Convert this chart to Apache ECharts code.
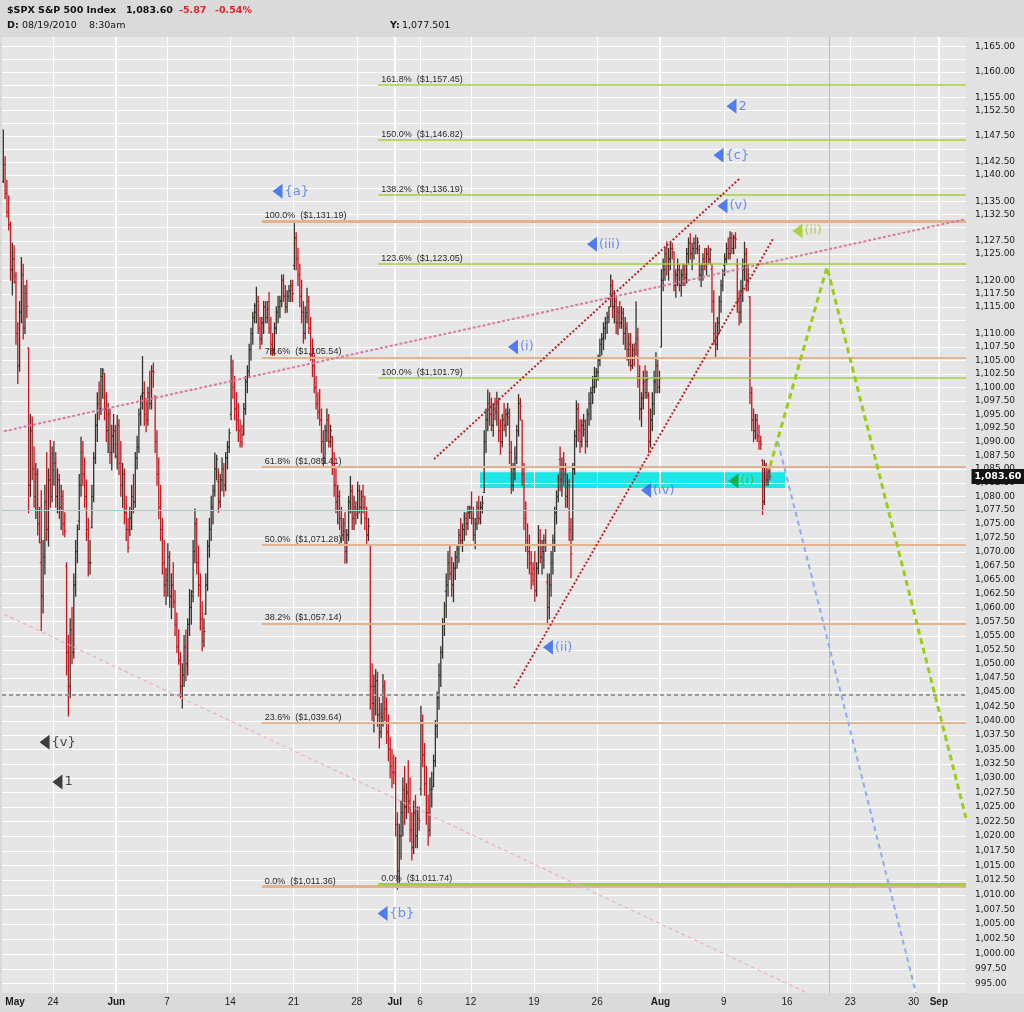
<!DOCTYPE html>
<html><head><meta charset="utf-8">
<script src="https://cdn.jsdelivr.net/npm/echarts@6/dist/echarts.min.js"></script>
<style>html,body{margin:0;padding:0;background:#dcdcdc;}#c{width:1024px;height:1012px;}</style>
</head><body><div id="c"></div>
<script>
// ---------- DATA ----------
const axisDays = ['05-18','05-19','05-20','05-21','05-24','05-25','05-26','05-27','05-28',
 '06-01','06-02','06-03','06-04','06-07','06-08','06-09','06-10','06-11','06-14','06-15','06-16','06-17','06-18',
 '06-21','06-22','06-23','06-24','06-25','06-28','06-29','06-30','07-01','07-02','07-06','07-07','07-08','07-09',
 '07-12','07-13','07-14','07-15','07-16','07-19','07-20','07-21','07-22','07-23','07-26','07-27','07-28','07-29','07-30',
 '08-02','08-03','08-04','08-05','08-06','08-09','08-10','08-11','08-12','08-13','08-16','08-17','08-18','08-19','08-20',
 '08-23','08-24','08-25','08-26','08-27','08-30','08-31','09-01','09-02','09-03'];

const xTickDays  = ['05-19','05-24','06-01','06-07','06-14','06-21','06-28','07-01','07-06','07-12','07-19','07-26','08-02','08-09','08-16','08-23','08-30','09-01'];
const xTickTexts = ['May','24','Jun','7','14','21','28','Jul','6','12','19','26','Aug','9','16','23','30','Sep'];
const xGridDays  = ['05-24','06-01','06-07','06-14','06-21','06-28','07-01','07-06','07-12','07-19','07-26','08-02','08-09','08-16','08-23','08-30','09-01'];
const monthStartDays = ['06-01','07-01','08-02','09-01'];

const yTickLabels = [1165,1160,1155,1152.5,1147.5,1142.5,1140,1135,1132.5,1127.5,1125,1120,1117.5,1115,1110,1107.5,1105,1102.5,1100,
 1097.5,1095,1092.5,1090,1087.5,1085,1082.5,1080,1077.5,1075,1072.5,1070,1067.5,1065,1062.5,1060,1057.5,1055,1052.5,1050,1047.5,1045,
 1042.5,1040,1037.5,1035,1032.5,1030,1027.5,1025,1022.5,1020,1017.5,1015,1012.5,1010,1007.5,1005,1002.5,1000,997.5,995];
const yGridValues = [1165,1162.5,1160,1157.5,1155,1152.5,1150,1147.5,1145,1142.5,1140,1137.5,1135,1132.5,1130,1127.5,1125,1122.5,1120,1117.5,
 1115,1112.5,1110,1107.5,1105,1102.5,1100,1097.5,1095,1092.5,1090,1087.5,1085,1082.5,1080,1077.5,1075,1072.5,1070,1067.5,1065,1062.5,1060,
 1057.5,1055,1052.5,1050,1047.5,1045,1042.5,1040,1037.5,1035,1032.5,1030,1027.5,1025,1022.5,1020,1017.5,1015,1012.5,1010,1007.5,1005,1002.5,1000,997.5,995];

// hourly OHLC bars per trading day [open, high, low, close]
const hourlyBars = [
 [[1138.8,1148.7,1138.6,1142.0],[1142.0,1143.5,1135.5,1136.5],[1136.5,1139.0,1132.0,1133.0],[1133.0,1136.0,1129.5,1130.5],[1130.5,1131.0,1120.0,1122.0],[1122.0,1127.0,1117.2,1124.0],[1124.0,1126.5,1119.5,1120.8]],
 [[1119.6,1121.5,1108.0,1110.0],[1110.0,1112.0,1100.7,1104.0],[1104.0,1116.0,1103.0,1114.0],[1114.0,1124.3,1112.0,1121.0],[1121.0,1123.0,1109.0,1111.0],[1111.0,1119.0,1110.0,1117.5],[1117.5,1120.0,1113.0,1115.1]],
 [[1107.3,1107.3,1077.0,1082.0],[1082.0,1095.0,1080.0,1092.0],[1092.0,1094.5,1083.0,1085.0],[1085.0,1089.0,1078.0,1080.0],[1080.0,1086.0,1076.0,1084.0],[1084.0,1085.0,1073.0,1075.0],[1075.0,1078.0,1071.6,1071.6]],
 [[1068.0,1081.0,1055.9,1062.0],[1062.0,1072.0,1059.0,1069.0],[1069.0,1082.0,1066.0,1079.0],[1079.0,1088.0,1072.0,1074.0],[1074.0,1085.0,1071.0,1083.0],[1083.0,1090.2,1078.0,1080.0],[1080.0,1089.0,1079.0,1087.7]],
 [[1084.8,1090.0,1082.0,1086.0],[1086.0,1088.0,1078.0,1080.0],[1080.0,1085.0,1077.0,1083.0],[1083.0,1084.0,1076.0,1078.0],[1078.0,1082.0,1074.0,1080.0],[1080.0,1081.0,1073.0,1075.0],[1075.0,1077.0,1072.7,1073.7]],
 [[1067.4,1068.0,1048.0,1052.0],[1052.0,1055.0,1040.8,1046.0],[1046.0,1058.0,1044.0,1056.0],[1056.0,1060.0,1050.0,1052.0],[1052.0,1066.0,1051.0,1064.0],[1064.0,1072.0,1062.0,1070.0],[1070.0,1074.8,1068.0,1074.0]],
 [[1075.5,1084.0,1074.0,1082.0],[1082.0,1090.8,1080.0,1088.0],[1088.0,1090.0,1082.0,1084.0],[1084.0,1087.0,1078.0,1080.0],[1080.0,1083.0,1072.0,1074.0],[1074.0,1076.0,1065.6,1068.0],[1068.0,1072.0,1066.0,1068.0]],
 [[1074.3,1082.0,1074.3,1080.0],[1080.0,1088.0,1079.0,1087.0],[1087.0,1095.0,1086.0,1093.0],[1093.0,1099.0,1090.0,1097.0],[1097.0,1101.0,1094.0,1096.0],[1096.0,1103.5,1095.0,1102.0],[1102.0,1103.5,1098.0,1103.1]],
 [[1102.6,1102.6,1094.0,1096.0],[1096.0,1099.0,1090.0,1092.0],[1092.0,1097.0,1088.0,1095.0],[1095.0,1096.0,1086.0,1088.0],[1088.0,1093.0,1084.8,1091.0],[1091.0,1095.0,1088.0,1092.0],[1092.0,1093.0,1087.0,1089.4]],
 [[1087.3,1094.8,1085.0,1093.0],[1093.0,1094.0,1084.0,1086.0],[1086.0,1090.0,1080.0,1082.0],[1082.0,1086.0,1078.0,1084.0],[1084.0,1085.0,1075.0,1077.0],[1077.0,1080.0,1072.0,1074.0],[1074.0,1076.0,1069.9,1070.7]],
 [[1073.9,1078.0,1072.9,1076.0],[1076.0,1082.0,1074.0,1080.0],[1080.0,1084.0,1077.0,1079.0],[1079.0,1088.0,1078.0,1087.0],[1087.0,1091.0,1085.0,1089.0],[1089.0,1096.0,1088.0,1095.0],[1095.0,1098.4,1093.0,1098.4]],
 [[1098.8,1105.7,1096.0,1099.0],[1099.0,1101.0,1093.0,1095.0],[1095.0,1098.0,1091.8,1094.0],[1094.0,1100.0,1093.0,1099.0],[1099.0,1103.0,1096.0,1097.0],[1097.0,1104.0,1096.0,1103.0],[1103.0,1104.5,1100.0,1102.8]],
 [[1098.4,1098.4,1088.0,1090.0],[1090.0,1092.0,1082.0,1084.0],[1084.0,1087.0,1076.0,1078.0],[1078.0,1082.0,1072.0,1074.0],[1074.0,1076.0,1066.0,1068.0],[1068.0,1072.0,1062.0,1064.0],[1064.0,1067.0,1060.5,1064.9]],
 [[1065.8,1071.4,1062.0,1069.0],[1069.0,1070.0,1060.0,1062.0],[1062.0,1066.0,1058.0,1064.0],[1064.0,1068.0,1060.0,1061.0],[1061.0,1063.0,1055.0,1057.0],[1057.0,1059.0,1052.0,1053.0],[1053.0,1056.0,1049.9,1050.5]],
 [[1050.8,1052.0,1044.0,1046.0],[1046.0,1050.0,1042.2,1048.0],[1048.0,1055.0,1046.0,1053.0],[1053.0,1056.0,1047.0,1050.0],[1050.0,1058.0,1048.0,1057.0],[1057.0,1063.2,1055.0,1060.0],[1060.0,1063.0,1057.0,1062.0]],
 [[1062.8,1072.0,1061.0,1070.0],[1070.0,1077.7,1068.0,1075.0],[1075.0,1076.0,1066.0,1068.0],[1068.0,1071.0,1062.0,1064.0],[1064.0,1066.0,1056.0,1058.0],[1058.0,1061.0,1052.3,1054.0],[1054.0,1058.0,1053.0,1055.7]],
 [[1058.8,1066.0,1058.8,1064.0],[1064.0,1072.0,1063.0,1071.0],[1071.0,1076.0,1069.0,1074.0],[1074.0,1080.0,1072.0,1078.0],[1078.0,1082.0,1075.0,1081.0],[1081.0,1087.9,1080.0,1085.0],[1085.0,1087.5,1083.0,1086.8]],
 [[1082.7,1085.0,1077.1,1079.0],[1079.0,1084.0,1078.0,1083.0],[1083.0,1087.0,1081.0,1085.0],[1085.0,1086.0,1080.0,1082.0],[1082.0,1088.0,1081.0,1087.0],[1087.0,1090.0,1085.0,1089.0],[1089.0,1092.3,1088.0,1091.6]],
 [[1095.0,1105.9,1094.0,1103.0],[1103.0,1105.0,1098.0,1100.0],[1100.0,1102.0,1094.0,1096.0],[1096.0,1099.0,1092.0,1094.0],[1094.0,1097.0,1090.0,1092.0],[1092.0,1094.0,1089.0,1090.0],[1090.0,1093.0,1089.0,1089.6]],
 [[1091.2,1097.0,1091.2,1096.0],[1096.0,1102.0,1095.0,1101.0],[1101.0,1104.0,1099.0,1103.0],[1103.0,1108.0,1102.0,1107.0],[1107.0,1111.0,1105.0,1110.0],[1110.0,1114.0,1108.0,1113.0],[1113.0,1115.6,1112.0,1115.2]],
 [[1114.0,1118.7,1112.0,1116.0],[1116.0,1117.0,1110.0,1111.0],[1111.0,1113.0,1107.1,1109.0],[1109.0,1113.0,1108.0,1112.0],[1112.0,1116.0,1110.0,1115.0],[1115.0,1116.0,1112.0,1113.0],[1113.0,1116.0,1112.0,1114.6]],
 [[1116.0,1117.7,1110.0,1111.0],[1111.0,1113.0,1106.0,1108.0],[1108.0,1110.0,1105.9,1107.0],[1107.0,1112.0,1106.0,1111.0],[1111.0,1115.0,1110.0,1114.0],[1114.0,1117.0,1112.0,1115.0],[1115.0,1117.0,1113.0,1116.0]],
 [[1116.2,1121.0,1115.0,1120.0],[1120.0,1121.0,1116.0,1117.0],[1117.0,1119.0,1113.9,1115.0],[1115.0,1118.0,1114.0,1117.0],[1117.0,1119.0,1116.0,1118.0],[1118.0,1120.0,1116.0,1119.0],[1119.0,1120.0,1116.0,1117.5]],
 [[1122.8,1131.2,1122.0,1128.0],[1128.0,1129.0,1122.0,1124.0],[1124.0,1126.0,1119.0,1121.0],[1121.0,1123.0,1115.0,1117.0],[1117.0,1120.0,1112.0,1114.0],[1114.0,1116.0,1108.2,1110.0],[1110.0,1115.0,1109.0,1113.2]],
 [[1113.9,1118.5,1112.0,1116.0],[1116.0,1117.0,1110.0,1111.0],[1111.0,1113.0,1105.0,1106.0],[1106.0,1109.0,1102.0,1104.0],[1104.0,1106.0,1099.0,1100.0],[1100.0,1102.0,1096.0,1097.0],[1097.0,1099.0,1094.2,1095.3]],
 [[1095.6,1099.6,1093.0,1094.0],[1094.0,1096.0,1088.0,1090.0],[1090.0,1092.0,1085.3,1087.0],[1087.0,1093.0,1086.0,1092.0],[1092.0,1096.0,1090.0,1094.0],[1094.0,1095.0,1089.0,1090.0],[1090.0,1093.0,1089.0,1092.0]],
 [[1090.9,1090.9,1084.0,1086.0],[1086.0,1088.0,1080.0,1082.0],[1082.0,1085.0,1077.0,1079.0],[1079.0,1082.0,1075.0,1080.0],[1080.0,1081.0,1074.0,1076.0],[1076.0,1078.0,1071.6,1073.0],[1073.0,1076.0,1072.0,1073.7]],
 [[1075.1,1077.0,1067.9,1070.0],[1070.0,1074.0,1068.0,1073.0],[1073.0,1080.0,1072.0,1079.0],[1079.0,1083.6,1077.0,1081.0],[1081.0,1082.0,1074.0,1076.0],[1076.0,1080.0,1074.0,1078.0],[1078.0,1079.0,1075.0,1076.8]],
 [[1077.5,1082.6,1076.0,1081.0],[1081.0,1082.0,1077.0,1078.0],[1078.0,1081.0,1075.0,1080.0],[1080.0,1082.0,1077.0,1078.0],[1078.0,1080.0,1074.0,1076.0],[1076.0,1078.0,1071.5,1073.0],[1073.0,1076.0,1072.0,1074.6]],
 [[1071.1,1071.1,1042.0,1046.0],[1046.0,1050.0,1040.0,1043.0],[1043.0,1048.0,1038.0,1046.0],[1046.0,1049.0,1041.0,1047.0],[1047.0,1048.5,1039.0,1041.0],[1041.0,1044.0,1035.2,1038.0],[1038.0,1043.0,1037.0,1041.2]],
 [[1040.6,1048.1,1039.0,1046.0],[1046.0,1047.0,1040.0,1042.0],[1042.0,1044.0,1036.0,1038.0],[1038.0,1041.0,1033.0,1035.0],[1035.0,1037.0,1030.0,1032.0],[1032.0,1035.0,1028.3,1031.0],[1031.0,1034.0,1029.0,1030.7]],
 [[1031.1,1033.6,1020.0,1022.0],[1022.0,1024.0,1010.9,1014.0],[1014.0,1022.0,1012.0,1020.0],[1020.0,1026.0,1016.0,1024.0],[1024.0,1030.0,1020.0,1028.0],[1028.0,1032.0,1022.0,1025.0],[1025.0,1029.0,1023.0,1027.4]],
 [[1027.7,1033.0,1024.0,1026.0],[1026.0,1030.0,1019.0,1021.0],[1021.0,1024.0,1015.9,1018.0],[1018.0,1026.0,1017.0,1024.0],[1024.0,1027.0,1018.0,1020.0],[1020.0,1025.0,1018.0,1023.0],[1023.0,1025.0,1021.0,1022.6]],
 [[1028.1,1042.5,1027.0,1040.0],[1040.0,1041.0,1032.0,1034.0],[1034.0,1036.0,1027.0,1029.0],[1029.0,1032.0,1022.0,1024.0],[1024.0,1027.0,1018.4,1021.0],[1021.0,1030.0,1020.0,1028.0],[1028.0,1031.0,1025.0,1028.1]],
 [[1028.5,1034.0,1028.5,1033.0],[1033.0,1040.0,1032.0,1039.0],[1039.0,1045.0,1037.0,1044.0],[1044.0,1050.0,1042.0,1048.0],[1048.0,1053.0,1046.0,1052.0],[1052.0,1058.0,1051.0,1057.0],[1057.0,1060.9,1055.0,1060.3]],
 [[1062.9,1066.0,1058.2,1064.0],[1064.0,1070.0,1062.0,1068.0],[1068.0,1071.3,1065.0,1066.0],[1066.0,1069.0,1062.0,1064.0],[1064.0,1068.0,1061.0,1067.0],[1067.0,1070.0,1065.0,1069.0],[1069.0,1071.0,1067.0,1070.3]],
 [[1070.5,1074.0,1068.1,1073.0],[1073.0,1076.0,1071.0,1072.0],[1072.0,1075.0,1070.0,1074.0],[1074.0,1077.0,1072.0,1076.0],[1076.0,1077.0,1073.0,1075.0],[1075.0,1078.2,1074.0,1077.0],[1077.0,1078.2,1076.0,1078.0]],
 [[1077.2,1080.8,1075.0,1076.0],[1076.0,1078.0,1072.0,1073.0],[1073.0,1076.0,1070.5,1075.0],[1075.0,1079.0,1074.0,1078.0],[1078.0,1080.0,1075.0,1076.0],[1076.0,1079.0,1075.0,1078.0],[1078.0,1080.0,1077.0,1078.8]],
 [[1080.7,1092.0,1080.7,1090.0],[1090.0,1096.0,1088.0,1094.0],[1094.0,1099.5,1092.0,1097.0],[1097.0,1099.0,1093.0,1095.0],[1095.0,1098.0,1092.0,1093.0],[1093.0,1097.0,1091.0,1096.0],[1096.0,1098.0,1094.0,1095.3]],
 [[1095.6,1099.1,1093.0,1097.0],[1097.0,1098.0,1090.0,1092.0],[1092.0,1094.0,1087.7,1090.0],[1090.0,1095.0,1089.0,1094.0],[1094.0,1097.0,1092.0,1093.0],[1093.0,1096.0,1091.0,1095.0],[1095.0,1097.0,1093.0,1095.2]],
 [[1094.5,1096.0,1086.0,1088.0],[1088.0,1090.0,1080.5,1082.0],[1082.0,1086.0,1081.0,1085.0],[1085.0,1089.0,1083.0,1087.0],[1087.0,1093.0,1086.0,1092.0],[1092.0,1098.7,1091.0,1097.0],[1097.0,1098.0,1094.0,1096.5]],
 [[1093.9,1093.9,1082.0,1084.0],[1084.0,1086.0,1074.0,1076.0],[1076.0,1079.0,1070.0,1072.0],[1072.0,1075.0,1067.0,1070.0],[1070.0,1073.0,1066.0,1068.0],[1068.0,1070.0,1063.3,1066.0],[1066.0,1068.0,1064.0,1064.9]],
 [[1066.9,1070.0,1061.1,1063.0],[1063.0,1068.0,1062.0,1067.0],[1067.0,1074.7,1066.0,1072.0],[1072.0,1074.0,1068.0,1069.0],[1069.0,1072.0,1066.0,1070.0],[1070.0,1073.0,1067.0,1072.0],[1072.0,1074.0,1070.0,1071.3]],
 [[1064.5,1066.0,1056.9,1060.0],[1060.0,1066.0,1058.0,1064.0],[1064.0,1070.0,1062.0,1068.0],[1068.0,1073.0,1066.0,1072.0],[1072.0,1078.0,1070.0,1077.0],[1077.0,1081.0,1075.0,1080.0],[1080.0,1083.9,1079.0,1083.5]],
 [[1086.7,1089.0,1081.0,1083.0],[1083.0,1087.0,1080.0,1085.0],[1085.0,1088.0,1082.0,1084.0],[1084.0,1086.0,1078.0,1080.0],[1080.0,1084.0,1078.0,1082.0],[1082.0,1083.0,1072.0,1074.0],[1074.0,1076.0,1065.3,1069.6]],
 [[1072.1,1086.0,1072.1,1085.0],[1085.0,1092.0,1084.0,1091.0],[1091.0,1097.5,1089.0,1096.0],[1096.0,1097.0,1090.0,1092.0],[1092.0,1094.0,1088.0,1090.0],[1090.0,1094.0,1089.0,1093.0],[1093.0,1095.0,1091.0,1093.7]],
 [[1092.2,1094.0,1087.9,1090.0],[1090.0,1096.0,1089.0,1095.0],[1095.0,1099.0,1093.0,1097.0],[1097.0,1100.0,1094.0,1099.0],[1099.0,1102.0,1097.0,1100.0],[1100.0,1103.7,1099.0,1102.0],[1102.0,1103.5,1100.0,1102.7]],
 [[1102.9,1106.0,1101.3,1105.0],[1105.0,1109.0,1104.0,1108.0],[1108.0,1110.0,1106.0,1109.0],[1109.0,1112.0,1107.0,1111.0],[1111.0,1113.0,1109.0,1112.0],[1112.0,1114.0,1110.0,1113.0],[1113.0,1115.0,1112.0,1115.0]],
 [[1117.4,1121.0,1115.0,1119.0],[1119.0,1120.0,1113.0,1115.0],[1115.0,1118.0,1112.0,1116.0],[1116.0,1117.0,1110.0,1112.0],[1112.0,1115.0,1109.8,1114.0],[1114.0,1116.0,1111.0,1112.0],[1112.0,1115.0,1111.0,1113.8]],
 [[1112.8,1114.7,1108.0,1110.0],[1110.0,1113.0,1107.0,1111.0],[1111.0,1112.0,1105.0,1107.0],[1107.0,1110.0,1104.0,1108.0],[1108.0,1110.0,1103.1,1104.0],[1104.0,1108.0,1103.5,1107.0],[1107.0,1108.0,1104.0,1106.1]],
 [[1108.1,1115.9,1106.0,1109.0],[1109.0,1111.0,1100.0,1102.0],[1102.0,1104.0,1094.0,1096.0],[1096.0,1099.0,1092.8,1098.0],[1098.0,1103.0,1096.0,1101.0],[1101.0,1104.0,1098.0,1099.0],[1099.0,1103.0,1098.0,1101.5]],
 [[1098.4,1099.0,1088.0,1090.0],[1090.0,1096.0,1089.0,1094.0],[1094.0,1099.0,1092.0,1097.0],[1097.0,1103.0,1095.0,1101.0],[1101.0,1106.4,1099.0,1104.0],[1104.0,1105.0,1099.0,1100.0],[1100.0,1103.0,1099.0,1101.6]],
 [[1107.5,1122.0,1107.5,1120.0],[1120.0,1124.0,1118.0,1122.0],[1122.0,1126.0,1120.0,1125.0],[1125.0,1127.3,1121.0,1123.0],[1123.0,1126.0,1120.0,1124.0],[1124.0,1127.0,1122.0,1126.0],[1126.0,1127.0,1124.0,1125.9]],
 [[1125.3,1125.4,1118.0,1119.0],[1119.0,1122.0,1116.8,1121.0],[1121.0,1124.0,1119.0,1122.0],[1122.0,1123.0,1118.0,1119.0],[1119.0,1122.0,1117.0,1121.0],[1121.0,1123.0,1119.0,1122.0],[1122.0,1123.0,1119.0,1120.5]],
 [[1121.1,1126.0,1119.5,1125.0],[1125.0,1128.0,1123.0,1127.0],[1127.0,1128.8,1124.0,1125.0],[1125.0,1127.0,1122.0,1126.0],[1126.0,1128.0,1124.0,1127.0],[1127.0,1128.5,1125.0,1126.0],[1126.0,1128.0,1125.0,1127.2]],
 [[1125.8,1126.6,1120.0,1121.0],[1121.0,1123.0,1118.8,1122.0],[1122.0,1125.0,1120.0,1124.0],[1124.0,1126.0,1122.0,1123.0],[1123.0,1126.0,1121.0,1125.0],[1125.0,1126.5,1123.0,1124.0],[1124.0,1126.0,1123.0,1125.8]],
 [[1122.1,1123.1,1114.0,1116.0],[1116.0,1118.0,1108.0,1110.0],[1110.0,1112.0,1105.7,1108.0],[1108.0,1113.0,1107.0,1112.0],[1112.0,1117.0,1110.0,1116.0],[1116.0,1120.0,1114.0,1119.0],[1119.0,1122.0,1118.0,1121.6]],
 [[1122.8,1125.0,1120.9,1124.0],[1124.0,1127.0,1123.0,1126.0],[1126.0,1128.0,1124.0,1125.0],[1125.0,1129.2,1124.0,1128.0],[1128.0,1129.0,1125.0,1126.0],[1126.0,1128.5,1125.0,1128.0],[1128.0,1129.0,1126.0,1127.8]],
 [[1122.9,1124.0,1114.0,1116.0],[1116.0,1118.0,1111.6,1114.0],[1114.0,1120.0,1112.0,1118.0],[1118.0,1124.0,1116.0,1122.0],[1122.0,1127.2,1120.0,1125.0],[1125.0,1126.0,1118.0,1120.0],[1120.0,1123.0,1118.0,1121.1]],
 [[1116.9,1116.9,1097.0,1099.0],[1099.0,1100.0,1092.0,1094.0],[1094.0,1096.0,1090.0,1092.0],[1092.0,1095.0,1090.5,1094.0],[1094.0,1095.0,1090.0,1091.0],[1091.0,1093.0,1088.6,1090.0],[1090.0,1091.0,1088.6,1089.5]],
 [[1086.5,1086.7,1076.7,1079.0],[1079.0,1086.5,1078.5,1085.5],[1085.5,1086.0,1082.0,1083.0],[1083.0,1085.0,1082.0,1084.5],[1084.5,1085.0,1083.0,1083.6]]
];
const barsPerDay = 7;

const fibALabels = ['100.0%','78.6%','61.8%','50.0%','38.2%','23.6%','0.0%'];
const fibAPrices = [1131.19,1105.54,1085.41,1071.28,1057.14,1039.64,1011.36];
const fibAStart = 20.5;
const fibBLabels = ['161.8%','150.0%','138.2%','123.6%','100.0%','0.0%'];
const fibBPrices = [1157.45,1146.82,1136.19,1123.05,1101.79,1011.74];
const fibBStart = 29.7;

const waveTexts  = ['{a}','{b}','(i)','(ii)','(iii)','(iv)','(v)','{c}','2','(ii)','(i)','{v}','1'];
const waveX      = [21.74,30.04,40.35,43.11,46.59,50.86,56.90,56.59,57.61,62.83,57.77,3.33,4.35];
const wavePrices = [1136.9,1006.8,1107.5,1052.9,1126.8,1081.1,1134.1,1143.8,1153.3,1129.3,1082.8,1036.2,1029.3];
const waveKinds  = ['blue','blue','blue','blue','blue','blue','blue','blue','blue','lime','green','black','black'];

const trendUpperPink = [[0.126,1091.9],[76.14,1131.6]];
const trendLowerPink = [[0.126,1058.8],[63.6,993.4]];
const channelUpper   = [[34.11,1086.8],[58.29,1139.4]];
const channelLower   = [[40.43,1045.7],[60.89,1127.8]];
const projGreen      = [[60.66,1085.5],[65.16,1122.5],[76.14,1023.1]];
const projBlue       = [[61.29,1089.9],[72.19,993.4]];

const supportZoneX = [37.74,61.84];
const supportZonePrices = [1081.5,1084.4];
const dashedLevel = 1044.5;
const crosshairPrice = 1077.5;
const crosshairX = 65.3;
const lastPrice = 1083.60;

// ---------- BUILD ----------
const L = Math.log;
const X_MIN = -0.0316, X_MAX = 76.144;
const Y_MIN = L(993.4), Y_MAX = L(1166.8);
const dayIdx = d => axisDays.indexOf(d);
const money = v => v.toLocaleString('en-US',{minimumFractionDigits:2, maximumFractionDigits:2});

const ohlc = [];
hourlyBars.forEach((day, di) => {
  day.forEach((b, k) => {
    ohlc.push([di + (k + 0.5) / barsPerDay, L(b[0]), L(b[1]), L(b[2]), L(b[3])]);
  });
});

const xTickIdx = xTickDays.map(dayIdx);
const monthSet = new Set(monthStartDays);

const waveStyles = {
  blue:  {tri:'#2b60f0', txt:'#4677f4'},
  lime:  {tri:'#9ccd1c', txt:'#a2cc36'},
  green: {tri:'#1e9e22', txt:'#46b82e'},
  black: {tri:'#111111', txt:'#1a1a1a'}
};

const lineSeries = (data, color, width, type, z) => ({
  type:'line', data: data.map(p => [p[0], L(p[1])]), symbol:'none', silent:true, z,
  lineStyle:{color, width, type}, clip:true
});

const hLine = (price, color, width, type) => [
  {coord:[X_MIN, L(price)], lineStyle:{color, width, type}},
  {coord:[X_MAX, L(price)]}
];

const fibMark = (labels, prices, start, color, width, boldWidth, boldLabels, z) => ({
  type:'line', data:[], silent:true, z,
  markLine:{
    symbol:['none','none'], silent:true, animation:false,
    data: prices.map((p,i) => [
      {coord:[start, L(p)], lineStyle:{color, width: boldLabels.includes(labels[i]) ? boldWidth : width, type:'solid'},
       label:{show:true, position:'insideStartTop', distance:[3,1],
         formatter: () => labels[i] + '  ($' + money(p) + ')',
         color:'#2a2a2a', fontSize:9, fontFamily:'Liberation Sans'}},
      {coord:[X_MAX, L(p)]}
    ])
  }
});

const chart = echarts.init(document.getElementById('c'));
chart.setOption({
  animation:false,
  backgroundColor:'#dadada',
  grid:{left:2, right:58, top:37, bottom:19, show:true, backgroundColor:'#e6e6e6', borderWidth:0},
  xAxis:{type:'value', min:X_MIN, max:X_MAX, splitLine:{show:false}, axisLine:{show:false}, axisTick:{show:false},
    axisLabel:{customValues:xTickIdx, margin:4,
      formatter: v => { const i = xTickIdx.indexOf(v); const t = xTickTexts[i];
        return /^[A-Z]/.test(t) ? '{m|' + t + '}' : '{d|' + t + '}'; },
      rich:{m:{fontWeight:'bold', fontSize:10, color:'#1a1a1a', fontFamily:'Liberation Sans Narrow, Liberation Sans'},
            d:{fontSize:10, color:'#1a1a1a', fontFamily:'Liberation Sans Narrow, Liberation Sans'}}}},
  yAxis:{type:'value', position:'right', min:Y_MIN, max:Y_MAX, splitLine:{show:false}, axisLine:{show:false}, axisTick:{show:false},
    axisLabel:{customValues:yTickLabels.map(L), margin:9, align:'left',
      formatter: v => money(Math.round(Math.exp(v)*100)/100),
      fontSize:9, fontFamily:'DejaVu Sans', color:'#1a1a1a'}},
  graphic:[
    {type:'rect', z:-1, shape:{x:966, y:37, width:58, height:956}, style:{fill:'#e2e2e2'}, silent:true},
    {type:'text', x:7, y:11, style:{text:'$SPX S&P 500 Index', font:'bold 9.5px "DejaVu Sans"', fill:'#111', verticalAlign:'middle'}},
    {type:'text', x:126, y:11, style:{text:'1,083.60', font:'bold 9.5px "DejaVu Sans"', fill:'#111', verticalAlign:'middle'}},
    {type:'text', x:179, y:11, style:{text:'-5.87', font:'bold 9.5px "DejaVu Sans"', fill:'#e3202a', verticalAlign:'middle'}},
    {type:'text', x:215, y:11, style:{text:'-0.54%', font:'bold 9.5px "DejaVu Sans"', fill:'#e3202a', verticalAlign:'middle'}},
    {type:'text', x:7, y:26, style:{text:'D:', font:'bold 9.5px "DejaVu Sans"', fill:'#111', verticalAlign:'middle'}},
    {type:'text', x:22, y:26, style:{text:'08/19/2010', font:'9.5px "DejaVu Sans"', fill:'#111', verticalAlign:'middle'}},
    {type:'text', x:89, y:26, style:{text:'8:30am', font:'9.5px "DejaVu Sans"', fill:'#111', verticalAlign:'middle'}},
    {type:'text', x:390, y:26, style:{text:'Y:', font:'bold 9.5px "DejaVu Sans"', fill:'#111', verticalAlign:'middle'}},
    {type:'text', x:402, y:26, style:{text:'1,077.501', font:'9.5px "DejaVu Sans"', fill:'#111', verticalAlign:'middle'}}
  ],
  series:[
    // horizontal gridlines
    {type:'custom', silent:true, z:1, clip:true, data: yGridValues.map(v => [X_MIN, L(v)]), encode:{x:0, y:1},
      renderItem:(params, api) => { const cs = params.coordSys;
        const y = Math.round(api.coord([api.value(0), api.value(1)])[1]) + 0.5;
        return {type:'line', shape:{x1:cs.x, y1:y, x2:cs.x + cs.width, y2:y}, style:{stroke:'#ffffff', lineWidth:1}}; }},
    // vertical gridlines
    {type:'custom', silent:true, z:1, clip:true,
      data: xGridDays.map(d => [dayIdx(d), Y_MIN, monthSet.has(d) ? 2 : 1]), encode:{x:0, y:1},
      renderItem:(params, api) => { const cs = params.coordSys; const w = api.value(2);
        let x = api.coord([api.value(0), api.value(1)])[0]; x = w === 1 ? Math.round(x) + 0.5 : Math.round(x);
        return {type:'line', shape:{x1:x, y1:cs.y, x2:x, y2:cs.y + cs.height}, style:{stroke:'#ffffff', lineWidth:w}}; }},
    // support zone, dashed level, crosshair
    {type:'line', data:[], silent:true, z:2,
      markArea:{silent:true, itemStyle:{color:'#1ce6e6', opacity:1},
        data:[[{coord:[supportZoneX[0], L(supportZonePrices[0])]}, {coord:[supportZoneX[1], L(supportZonePrices[1])]}]]},
      markLine:{symbol:['none','none'], silent:true, label:{show:false},
        data:[
          hLine(dashedLevel, '#9a9a9a', 2, [4,3]),
          hLine(crosshairPrice, '#a8cccc', 1, 'solid'),
          [{coord:[crosshairX, Y_MIN], lineStyle:{color:'#a8c4bc', width:1, type:'solid'}}, {coord:[crosshairX, Y_MAX]}]
        ]}},
    fibMark(fibALabels, fibAPrices, fibAStart, '#e2b38e', 2, 3, ['100.0%','0.0%'], 3),
    fibMark(fibBLabels, fibBPrices, fibBStart, '#a5cf3a', 1.5, 3, ['0.0%'], 3),
    // OHLC bars
    {type:'custom', z:4, clip:true, silent:true, data:ohlc, encode:{x:0, y:[1,2,3,4]},
      renderItem:(params, api) => {
        const x = api.value(0), o = api.value(1), h = api.value(2), l = api.value(3), c = api.value(4);
        const ph = api.coord([x, h]), pl = api.coord([x, l]), po = api.coord([x, o]), pc = api.coord([x, c]);
        const col = c >= o ? '#34342c' : '#c8161e';
        return {type:'group', children:[
          {type:'line', shape:{x1:ph[0], y1:ph[1] - 0.5, x2:pl[0], y2:pl[1] + 0.5}, style:{stroke:col, lineWidth:1.3}},
          {type:'line', shape:{x1:po[0] - 1.5, y1:po[1], x2:po[0], y2:po[1]}, style:{stroke:col, lineWidth:1}},
          {type:'line', shape:{x1:pc[0], y1:pc[1], x2:pc[0] + 1.5, y2:pc[1]}, style:{stroke:col, lineWidth:1}}
        ]};
      }},
    // trendlines and projections
    lineSeries(trendUpperPink, '#d97aa2', 2, [3,2], 5),
    lineSeries(trendLowerPink, '#eab0c6', 1.2, [4,3], 5),
    lineSeries(channelUpper, '#b8222a', 2, [2,2], 5),
    lineSeries(channelLower, '#b8222a', 2, [2,2], 5),
    lineSeries(projGreen, '#9acd18', 3, [6,4], 5),
    lineSeries(projBlue, '#8faaf2', 2, [5,4], 5),
    // wave labels
    {type:'scatter', z:6, silent:true, clip:false,
      symbol:'path://M0,50 L100,0 L100,100 Z', symbolSize:[10,15],
      data: waveTexts.map((t,i) => ({
        value:[waveX[i], L(wavePrices[i])],
        itemStyle:{color:waveStyles[waveKinds[i]].tri},
        label:{show:true, position:'right', distance:2, formatter:() => t,
          color:waveStyles[waveKinds[i]].txt, fontSize:13, fontFamily:'DejaVu Sans'}
      }))},
    // last price badge
    {type:'scatter', z:7, silent:true, clip:false, symbolSize:1, itemStyle:{color:'rgba(0,0,0,0)'},
      data:[[X_MAX, L(lastPrice)]],
      label:{show:true, position:'right', distance:5, formatter:() => money(lastPrice), opacity:1,
        backgroundColor:'#141414', color:'#ffffff', fontWeight:'bold', fontSize:9.5, fontFamily:'DejaVu Sans',
        padding:[3,3,2,3]}}
  ]
});
</script>
</body></html>
